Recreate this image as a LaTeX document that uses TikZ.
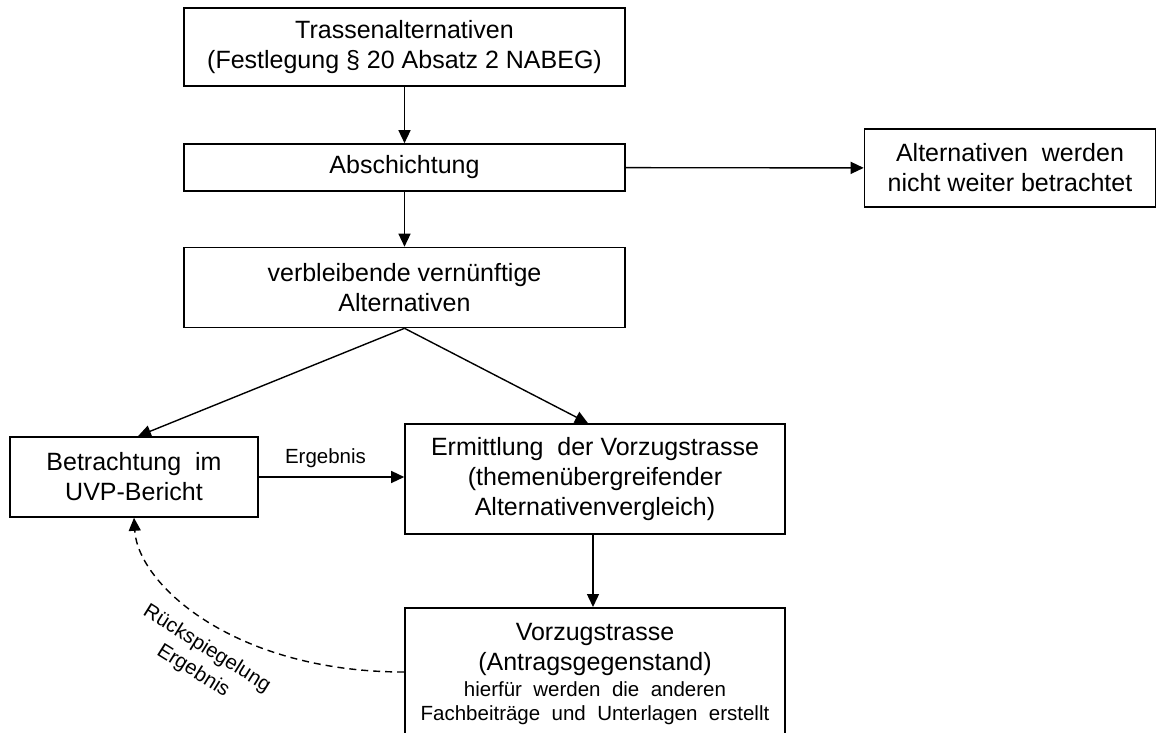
\documentclass[tikz,border=0pt]{standalone}
\usepackage{fontspec}
\setmainfont{Liberation Sans}
\usetikzlibrary{arrows.meta,positioning,calc}

\begin{document}
\begin{tikzpicture}[
  x=1pt,y=-1pt,
  stage/.style={draw,line width=1.6pt,align=center,inner sep=0pt,
    font=\fontsize{25}{30}\selectfont},
  arr/.style={line width=1.4pt,-{Triangle[length=13pt,width=12pt]}},
  lbl/.style={font=\fontsize{20.5}{26}\selectfont}
]
  \clip (0,0) rectangle (1157,733);
  \useasboundingbox (0,0) rectangle (1157,733);
  % Trassenalternativen
  \node[stage,minimum width=441,minimum height=78] (trasse) at (404.5,47)
    {Trassenalternativen\\(Festlegung {\S} 20 Absatz 2 NABEG)};
  % Abschichtung
  \node[stage,minimum width=441,minimum height=47] (absch) at (404.5,167.5)
    {Abschichtung};
  % nicht weiter betrachtet
  \node[stage,minimum width=291,minimum height=78] (nicht) at (1010,168)
    {Alternativen\ \ werden\\nicht weiter betrachtet};
  % verbleibende
  \node[stage,minimum width=441,minimum height=80] (verbl) at (404.5,287.5)
    {verbleibende vern\"unftige\\Alternativen};
  % UVP-Bericht
  \node[stage,minimum width=248,minimum height=80] (uvp) at (134,477)
    {Betrachtung\ \ im\\UVP-Bericht};
  % Ermittlung
  \node[stage,minimum width=380,minimum height=110] (ermittl) at (595,479)
    {Ermittlung\ \ der Vorzugstrasse\\(themen\"ubergreifender\\Alternativenvergleich)};
  % Vorzugstrasse
  \node[stage,anchor=north,minimum width=380,inner ysep=15pt] (vorzug) at (595,607)
    {Vorzugstrasse\\(Antragsgegenstand)\\[-4pt]
     {\fontsize{20.5}{24}\selectfont hierf\"ur\ \ werden\ \ die\ \ anderen}\\[-6pt]
     {\fontsize{20.5}{24}\selectfont Fachbeitr\"age\ \ und\ \ Unterlagen\ \ erstellt}\\[10pt]};

  % Verbindungen
  \draw[arr] (trasse) -- (absch);
  \draw[arr] (absch) -- (verbl);
  \draw[arr] (absch) -- (nicht);
  \draw[arr] (verbl.south) -- ([xshift=4pt]uvp.north);
  \draw[arr] (verbl.south) -- ([xshift=-7pt]ermittl.north);
  \draw[arr] (uvp.east) -- (uvp.east -| ermittl.west)
    node[lbl,midway,above=5pt,xshift=-6pt] (erg) {Ergebnis};
  \draw[arr] ([xshift=-2pt]ermittl.south) -- ([xshift=-2pt]vorzug.north);
  \draw[arr,dash pattern=on 7pt off 5pt] (vorzug.west |- 0,672)
    .. controls (235,672) and (138,585) .. (uvp.south);
  \node[lbl,rotate=-32,align=center] (rueck) at (200,660)
    {R\"uckspiegelung\\Ergebnis};
\end{tikzpicture}
\end{document}
